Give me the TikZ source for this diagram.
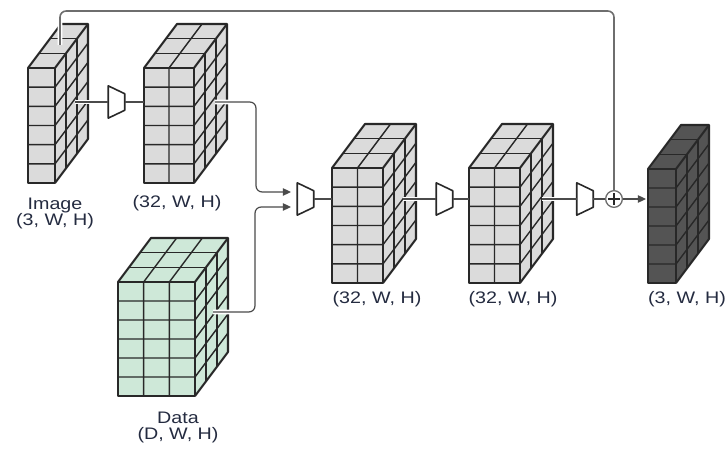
\documentclass[tikz,border=0pt]{standalone}
\usepackage{fontspec}
\setmainfont{Liberation Sans}[FakeStretch=1.18]
\usetikzlibrary{arrows.meta}
\definecolor{edgecol}{RGB}{40,40,40}
\definecolor{boxgray}{RGB}{219,219,219}
\definecolor{boxgreen}{RGB}{206,232,216}
\definecolor{boxdark}{RGB}{84,84,84}
\definecolor{linecol}{RGB}{75,75,75}
\definecolor{skipcol}{RGB}{110,110,110}
\definecolor{txtcol}{RGB}{36,43,64}
\tikzstyle{cubeedge}=[draw=edgecol,line width=1.15pt,line join=round]
\tikzstyle{cubeline}=[draw=edgecol,line width=0.8pt]
\tikzstyle{trap}=[minimum width=9pt,minimum height=18pt,inner sep=0,
  append after command={\pgfextra{\draw[draw=edgecol,fill=white,line width=0.9pt,line join=round]
  (\tikzlastnode.north west) -- (\tikzlastnode.south west) -- ([yshift=4.5pt]\tikzlastnode.south east)
  -- ([yshift=-4.5pt]\tikzlastnode.north east) -- cycle;}}]
\tikzstyle{sumnode}=[draw=skipcol,fill=white,circle,line width=0.75pt,minimum size=9.5pt,inner sep=0,
  path picture={\draw[edgecol,line width=0.6pt] ([yshift=1.6pt]path picture bounding box.south) -- ([yshift=-1.6pt]path picture bounding box.north)
  ([xshift=1.6pt]path picture bounding box.west) -- ([xshift=-1.6pt]path picture bounding box.east);}]
\tikzstyle{conn}=[draw=linecol,line width=0.7pt]
\tikzstyle{skipline}=[draw=skipcol,line width=0.9pt,rounded corners=3.5pt]
\tikzstyle{halo}=[preaction={draw=white,line width=2.6pt,shorten >=3pt}]
\tikzstyle{tip}=[-{Triangle[length=4.6pt,width=4.2pt]}]
\tikzstyle{lbl}=[text=txtcol,font=\fontsize{9.5}{9.1}\selectfont,align=center,inner sep=0]

% #1,#2 front top-left, #3 width, #4 height, #5 front columns, #6 fill
\newcommand{\cube}[6]{%
  \fill[#6] (#1,#2) rectangle ++(#3,#4);
  \fill[#6] (#1,#2) -- ++(33,-44) -- ++(#3,0) -- ++(-33,44) -- cycle;
  \fill[#6] ({#1+#3},#2) -- ++(33,-44) -- ++(0,#4) -- ++(-33,44) -- cycle;
  \foreach \j in {1,...,5} {
    \draw[cubeline] (#1,{#2+\j*#4/6}) -- ++(#3,0) -- ++(33,-44);
  }
  \foreach \k in {1,2} {
    \draw[cubeline] ({#1+11*\k},{#2-44*\k/3}) -- ++(#3,0) -- ++(0,#4);
  }
  \ifnum#5>1
  \foreach \i in {2,...,#5} {
    \draw[cubeline] ({#1+(\i-1)*#3/#5},{#2+#4}) -- ++(0,-#4) -- ++(33,-44);
  }
  \fi
  \draw[cubeedge] (#1,#2) rectangle ++(#3,#4);
  \draw[cubeedge] (#1,#2) -- ++(33,-44) -- ++(#3,0) -- ++(0,#4) -- ++(-33,44);
  \draw[cubeedge] ({#1+#3},#2) -- ++(33,-44);
}

\begin{document}
\begin{tikzpicture}[x=0.02cm,y=-0.02cm]

        \useasboundingbox (0,0) rectangle (727,449);

        \cube{28}{68}{27}{115}{1}{fill=boxgray}
        \cube{144}{68}{50}{115}{2}{fill=boxgray}
        \cube{118}{282}{77}{114}{3}{fill=boxgreen}
        \cube{332}{168}{51}{115}{2}{fill=boxgray}
        \cube{469}{168}{51}{115}{2}{fill=boxgray}
        \cube{648}{169}{28}{114}{1}{fill=boxdark}

        \node[lbl] (img-lbl) at (55,213) {Image\\(3, W, H)};
        \node[lbl] (f1-lbl) at (177,203) {(32, W, H)};
        \node[lbl] (data-lbl) at (178,427) {Data\\(D, W, H)};
        \node[lbl] (m1-lbl) at (377,299) {(32, W, H)};
        \node[lbl] (m2-lbl) at (513,299) {(32, W, H)};
        \node[lbl] (out-lbl) at (687,299) {(3, W, H)};

        \coordinate (img-top) at (60,45);
        \coordinate (img-o) at (75,102);
        \coordinate (f1-i) at (144,102);
        \coordinate (f1-o) at (215,102);
        \coordinate (data-o) at (213,312);
        \coordinate (in-a) at (291,192);
        \coordinate (in-b) at (291,207);
        \coordinate (m1-i) at (332,199);
        \coordinate (m1-o) at (403,199);
        \coordinate (m2-i) at (469,199);
        \coordinate (m2-o) at (542,199);
        \coordinate (out-i) at (646,199);

        \node[trap] (t1) at (116.5,102) {};
        \node[trap] (t2) at (305.5,199) {};
        \node[trap] (t3) at (444.5,199) {};
        \node[trap] (t4) at (585,199) {};
        \node[sumnode] (sum) at (614,199) {};

        \draw[conn,halo] (img-o) -- (t1);
        \draw[conn] (t1) -- (f1-i);
        \draw[conn,halo,tip,rounded corners=3.5pt] (f1-o) -- ++(41,0) |- (in-a);
        \draw[conn,halo,tip,rounded corners=3.5pt] (data-o) -- ++(42,0) |- (in-b);
        \draw[conn] (t2) -- (m1-i);
        \draw[conn,halo] (m1-o) -- (t3);
        \draw[conn] (t3) -- (m2-i);
        \draw[conn,halo] (m2-o) -- (t4);
        \draw[conn] (t4) -- (sum);
        \draw[conn,tip] (sum) -- (out-i);
        \draw[skipline,halo] (img-top) -- ++(0,-34) -| (sum);

\end{tikzpicture}
\end{document}
